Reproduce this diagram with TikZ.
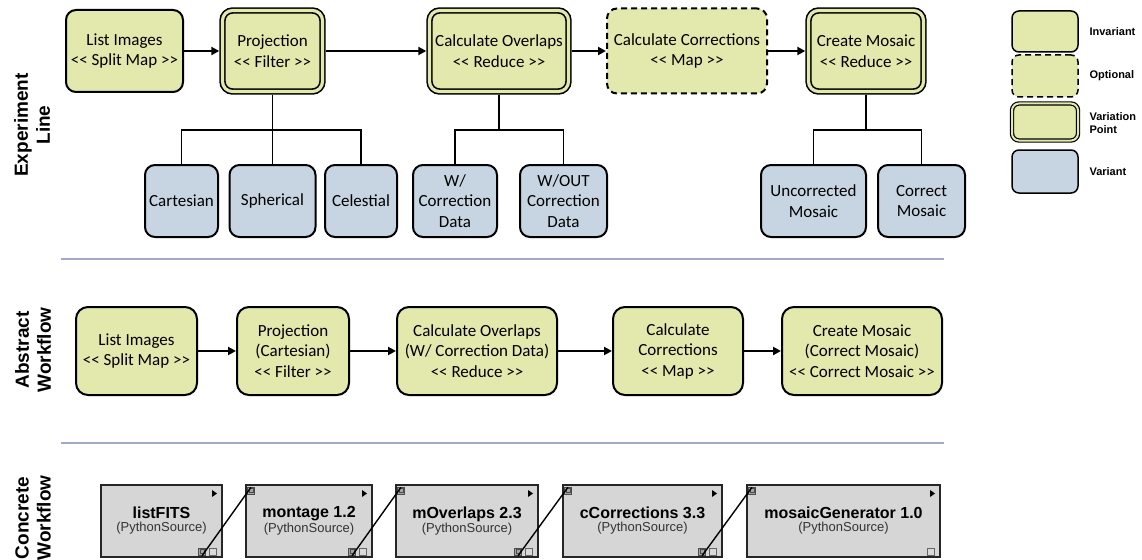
\documentclass[tikz,border=0pt]{standalone}
\usepackage{fontspec}
\setmainfont{Carlito}
\newfontfamily\arialfont{Liberation Sans}
\usetikzlibrary{arrows.meta}

\definecolor{invfill}{RGB}{227,232,172}
\definecolor{varfill}{RGB}{199,213,226}
\definecolor{sepline}{RGB}{160,170,196}
\definecolor{cwfill}{RGB}{214,214,214}
\definecolor{portfill}{RGB}{165,165,165}

% guillemet-like pairs kept as two separate characters
\newcommand\lgl{<\kern0pt<}
\newcommand\rgl{>\kern0pt>}

\tikzset{
  box/.style={rounded corners=10pt, draw=black, line width=2pt, fill=invfill,
    align=center, font=\fontsize{17}{20.5}\selectfont, inner sep=0pt, outer sep=1pt},
  invariant/.style={box},
  optional/.style={box, dash pattern=on 6pt off 4pt},
  vpoint/.style={box, line width=1.6pt, double=invfill, double distance=3.2pt, outer sep=3.2pt},
  variant/.style={box, fill=varfill},
  flow/.style={line width=2.2pt, -{Triangle[length=8pt,width=8pt]}},
  tree/.style={line width=1.8pt},
  sep/.style={draw=sepline, line width=1.2pt},
  sidelbl/.style={align=center, font=\arialfont\bfseries\fontsize{19}{22}\selectfont, rotate=90},
  legendtxt/.style={anchor=west, align=left, font=\arialfont\bfseries\fontsize{11}{13.5}\selectfont},
  legendbox/.style={minimum width=66pt, line width=1.5pt, rounded corners=7pt},
  concrete/.style={draw=black!85, line width=1.8pt, fill=cwfill, inner sep=0pt, outer sep=0pt,
    align=center, minimum height=72pt, font=\arialfont},
  portin/.style={draw=black!70, fill=portfill, line width=0.6pt, minimum size=7pt, inner sep=0pt,
    path picture={\draw[black!70, line width=0.5pt]
      ([shift={(1.6pt,-1.2pt)}]path picture bounding box.north west) rectangle
      ([shift={(-1.6pt,2.6pt)}]path picture bounding box.south east);}},
  portout/.style={draw=black!60, fill=white!85!black, line width=0.6pt, minimum size=7pt, inner sep=0pt},
  link/.style={line width=1.4pt},
}

\newcommand\cwtext[1]{{\fontsize{16}{18}\selectfont\bfseries #1}\\[1pt]{\fontsize{13}{15}\selectfont\color{black!80}(PythonSource)}}

\begin{document}
\begin{tikzpicture}[x=1pt,y=-1pt]
\useasboundingbox (0,0) rectangle (1142,559);

% ---------------- section labels and separators
\node[sidelbl] (lblExp) at (32,125) {Experiment\\Line};
\node[sidelbl] (lblAbs) at (33,350) {Abstract\\Workflow};
\node[sidelbl] (lblCon) at (33,518) {Concrete\\Workflow};
\draw[sep] (61,259) -- (944,259);
\draw[sep] (61,443) -- (944,443);

% ---------------- experiment line
\node[invariant, minimum width=117pt, minimum height=82pt] (eList) at (124.5,51) {List Images\\\lgl{} Split Map \rgl};
\node[vpoint, minimum width=100pt, minimum height=81pt] (eProj) at (272.5,51) {Projection\\\lgl{} Filter \rgl};
\node[vpoint, minimum width=139pt, minimum height=81pt] (eOver) at (499,51) {Calculate Overlaps\\\lgl{} Reduce \rgl};
\node[optional, minimum width=160pt, minimum height=85pt] (eCorr) at (687,51) {Calculate Corrections\\\lgl{} Map \rgl};
\node[vpoint, minimum width=115pt, minimum height=81pt] (eMos) at (866,51) {Create Mosaic\\\lgl{} Reduce \rgl};

\draw[flow] (eList) -- (eProj);
\draw[flow] (eProj) -- (eOver);
\draw[flow] (eOver) -- (eCorr);
\draw[flow] (eCorr) -- (eMos);

\node[variant, minimum width=73pt, minimum height=72pt] (vCart) at (181.5,201) {Cartesian};
\node[variant, minimum width=86pt, minimum height=72pt] (vSph) at (272.5,201) {Spherical};
\node[variant, minimum width=72pt, minimum height=72pt] (vCel) at (361,201) {Celestial};
\node[variant, minimum width=84pt, minimum height=72pt] (vWith) at (455,201) {W/\\Correction\\Data};
\node[variant, minimum width=87pt, minimum height=72pt] (vWithout) at (563.5,201) {W/OUT\\Correction\\Data};
\node[variant, minimum width=105pt, minimum height=72pt] (vUncor) at (813.5,201) {Uncorrected\\Mosaic};
\node[variant, minimum width=87pt, minimum height=72pt] (vCorr) at (921.5,201) {Correct\\Mosaic};

\draw[tree] (eProj.south) |- (vCart.north |- 0,130) -- (vCart.north);
\draw[tree] (eProj.south) |- (vCel.north |- 0,130) -- (vCel.north);
\draw[tree] (eProj.south) -- (vSph.north);
\draw[tree] (eOver.south) |- (vWith.north |- 0,130) -- (vWith.north);
\draw[tree] (eOver.south) |- (vWithout.north |- 0,130) -- (vWithout.north);
\draw[tree] (eMos.south) |- (vUncor.north |- 0,130) -- (vUncor.north);
\draw[tree] (eMos.south) |- (vCorr.north |- 0,130) -- (vCorr.north);

% ---------------- legend
\node[invariant, legendbox, minimum height=41pt] (lgInv) at (1045,31.5) {};
\node[optional, legendbox, minimum height=42pt] (lgOpt) at (1045,76) {};
\node[vpoint, legendbox, line width=1.2pt, double distance=2pt, minimum height=37pt] (lgVP) at (1045,122) {};
\node[variant, legendbox, minimum height=43pt] (lgVar) at (1045,171.5) {};
\node[legendtxt] (lgInvT) at (1086,31.5) {Invariant};
\node[legendtxt] (lgOptT) at (1086,76) {Optional};
\node[legendtxt] (lgVPT) at (1086,123) {Variation\\Point};
\node[legendtxt] (lgVarT) at (1086,171.5) {Variant};

% ---------------- abstract workflow
\node[invariant, rounded corners=12pt, minimum width=121pt, minimum height=88pt] (aList) at (136.5,351) {List Images\\\lgl{} Split Map \rgl};
\node[invariant, rounded corners=12pt, minimum width=112pt, minimum height=88pt] (aProj) at (293,351) {Projection\\(Cartesian)\\\lgl{} Filter \rgl};
\node[invariant, rounded corners=12pt, minimum width=160pt, minimum height=88pt] (aOver) at (477,351) {Calculate Overlaps\\(W/ Correction Data)\\\lgl{} Reduce \rgl};
\node[invariant, rounded corners=12pt, minimum width=130pt, minimum height=88pt] (aCorr) at (678,351) {Calculate\\Corrections\\\lgl{} Map \rgl};
\node[invariant, rounded corners=12pt, minimum width=160pt, minimum height=88pt] (aMos) at (862,351) {Create Mosaic\\(Correct Mosaic)\\\lgl{} Correct Mosaic \rgl};

\draw[flow] (aList) -- (aProj);
\draw[flow] (aProj) -- (aOver);
\draw[flow] (aOver) -- (aCorr);
\draw[flow] (aCorr) -- (aMos);

% ---------------- concrete workflow
\node[concrete, minimum width=121pt] (c1) at (161.5,521) {\cwtext{listFITS}};
\node[concrete, minimum width=126pt] (c2) at (309,521) {\cwtext{montage 1.2}};
\node[concrete, minimum width=142pt] (c3) at (467,521) {\cwtext{mOverlaps 2.3}};
\node[concrete, minimum width=159pt] (c4) at (642.5,521) {\cwtext{cCorrections 3.3}};
\node[concrete, minimum width=193pt] (c5) at (843.5,521) {\cwtext{mosaicGenerator 1.0}};

% run triangles in the top right corners
\foreach \b in {c1,c2,c3,c4,c5}
  \fill ([shift={(-10pt,-5pt)}]\b.north east) -- ++(0pt,-7pt) -- ++(5pt,3.5pt) -- cycle;

% input ports
\foreach \b in {c2,c3,c4,c5}
  \node[portin] (\b-in) at ([shift={(5pt,-6pt)}]\b.north west) {};
% output ports
\foreach \b in {c1,c2,c3,c4}
  \node[portin] (\b-out) at ([shift={(-20pt,5pt)}]\b.south east) {};
\foreach \b in {c1,c2,c3,c4,c5}
  \node[portout] (\b-aux) at ([shift={(-9.5pt,5pt)}]\b.south east) {};

\draw[link] (c1-out.south) -- (c2-in.north);
\draw[link] (c2-out.south) -- (c3-in.north);
\draw[link] (c3-out.south) -- (c4-in.north);
\draw[link] (c4-out.south) -- (c5-in.north);
\end{tikzpicture}
\end{document}
